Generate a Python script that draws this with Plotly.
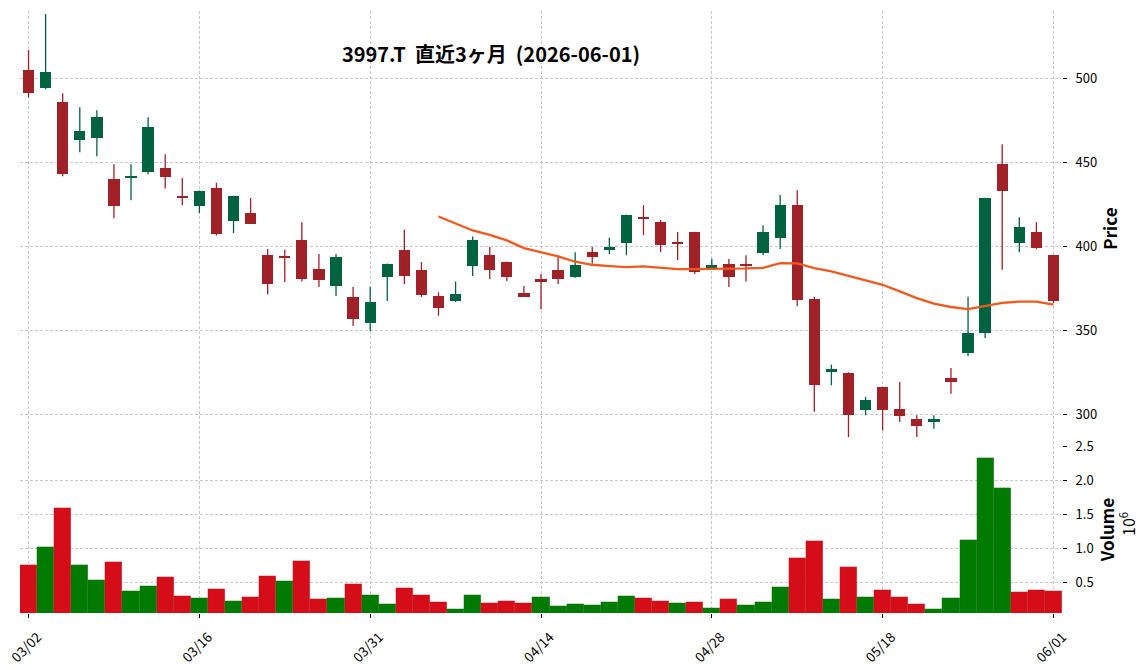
import plotly.graph_objects as go

# ---- data ----
dates = [
    "03/02", "03/03", "03/04", "03/05", "03/06", "03/09", "03/10", "03/11", "03/12", "03/13",
    "03/16", "03/17", "03/18", "03/19", "03/23", "03/24", "03/25", "03/26", "03/27", "03/30",
    "03/31", "04/01", "04/02", "04/03", "04/06", "04/07", "04/08", "04/09", "04/10", "04/13",
    "04/14", "04/15", "04/16", "04/17", "04/20", "04/21", "04/22", "04/23", "04/24", "04/27",
    "04/28", "04/30", "05/01", "05/07", "05/08", "05/11", "05/12", "05/13", "05/14", "05/15",
    "05/18", "05/19", "05/20", "05/21", "05/22", "05/25", "05/26", "05/27", "05/28", "05/29",
    "06/01",
]
opens = [
    504.9, 494.3, 486.0, 463.6, 464.8, 440.3, 440.5, 444.4, 446.8, 430.2,
    424.4, 434.9, 415.5, 420.1, 395.2, 394.2, 404.1, 386.8, 376.4, 370.2,
    354.4, 381.7, 398.1, 386.3, 370.8, 367.5, 388.4, 395.2, 391.0, 372.3,
    380.7, 386.3, 381.7, 396.9, 397.7, 401.9, 417.5, 414.7, 402.7, 408.8,
    387.0, 389.8, 389.8, 396.3, 405.4, 424.8, 369.0, 325.3, 325.1, 302.6,
    316.7, 303.2, 297.8, 295.7, 322.2, 336.6, 348.5, 449.2, 401.9, 408.8,
    395.2,
]
highs = [
    516.8, 538.2, 491.1, 482.8, 481.0, 449.0, 449.0, 476.9, 454.9, 440.7,
    433.3, 437.9, 430.2, 428.8, 398.5, 398.1, 414.5, 395.6, 395.6, 376.0,
    376.0, 390.0, 410.0, 390.8, 372.8, 379.3, 406.0, 399.7, 391.2, 376.6,
    383.7, 393.8, 396.7, 399.7, 405.2, 419.0, 424.6, 415.9, 408.6, 408.8,
    392.8, 392.6, 394.9, 412.7, 430.6, 433.5, 370.0, 329.9, 325.3, 310.7,
    316.7, 319.6, 299.8, 299.8, 327.9, 370.2, 429.0, 460.8, 417.5, 414.5,
    395.2,
]
lows = [
    488.7, 493.5, 441.8, 456.1, 453.7, 416.9, 427.6, 443.0, 434.5, 424.6,
    419.9, 406.6, 408.0, 413.7, 371.6, 378.9, 379.3, 376.0, 370.6, 352.8,
    349.9, 367.7, 377.7, 370.0, 358.9, 367.1, 382.5, 380.7, 379.5, 370.0,
    362.7, 377.7, 381.5, 390.0, 395.4, 394.8, 406.8, 396.7, 392.0, 383.7,
    387.0, 376.0, 379.3, 394.9, 398.5, 364.5, 301.8, 317.6, 286.8, 299.8,
    290.7, 295.8, 286.9, 291.7, 312.5, 335.0, 345.7, 386.3, 396.7, 398.5,
    366.5,
]
closes = [
    491.5, 503.8, 443.4, 468.7, 477.1, 424.4, 442.0, 471.1, 441.6, 428.6,
    433.1, 407.6, 430.2, 413.7, 377.5, 393.4, 380.5, 380.0, 394.0, 357.2,
    367.3, 389.6, 382.3, 371.4, 363.3, 372.0, 403.7, 385.9, 381.7, 370.2,
    378.7, 380.5, 389.2, 393.6, 399.9, 418.9, 416.7, 400.7, 401.9, 384.7,
    389.2, 381.7, 388.8, 408.8, 424.8, 368.4, 317.6, 327.3, 300.2, 309.1,
    302.6, 299.6, 293.3, 297.6, 319.4, 348.9, 429.0, 433.3, 411.8, 399.3,
    367.5,
]
volumes = [
    757000, 1019000, 1587000, 757000, 539000, 801000, 379000, 451000, 583000, 306000,
    277000, 408000, 233000, 291000, 597000, 524000, 816000, 262000, 277000, 481000,
    320000, 189000, 422000, 320000, 218000, 117000, 320000, 204000, 233000, 204000,
    291000, 160000, 189000, 175000, 218000, 306000, 277000, 233000, 204000, 218000,
    131000, 262000, 175000, 218000, 437000, 859000, 1107000, 262000, 728000, 291000,
    393000, 291000, 189000, 117000, 277000, 1121000, 2330000, 1893000, 364000, 393000,
    379000,
]
ma25 = [None] * 24 + [
    417.9, 413.6, 409.6, 407.0, 403.7, 399.1, 396.7, 394.2, 391.0, 389.2,
    388.4, 387.8, 388.2, 387.2, 386.6, 386.6, 386.6, 386.6, 387.0, 387.4,
    390.2, 390.0, 387.2, 385.3, 382.5, 379.9, 377.3, 373.4, 369.4, 366.1,
    364.1, 362.9, 364.9, 366.5, 367.3, 367.3, 365.5,
]
tick_dates = ["03/02", "03/16", "03/31", "04/14", "04/28", "05/18", "06/01"]
price_ticks = [300, 350, 400, 450, 500]
vol_ticks = [500000, 1000000, 1500000, 2000000, 2500000]
vol_tick_text = ["0.5", "1.0", "1.5", "2.0", "2.5"]
title_text = "3997.T  直近3ヶ月  (2026-06-01)"

# ---- styles ----
UP, DOWN = "#006340", "#a02128"
VUP, VDOWN = "#007a00", "#d50d18"
MA_COLOR = "#f05a1e"
GRID = "#c8c8c8"
FONT = "Noto Sans CJK JP"

candle_colors = [UP if c >= o else DOWN for o, c in zip(opens, closes)]
vol_colors = [VDOWN] + [VUP if closes[i] >= closes[i - 1] else VDOWN for i in range(1, len(closes))]

fig = go.Figure()

# wicks
for col in (UP, DOWN):
    wx, wy = [], []
    for d, h, l, cc in zip(dates, highs, lows, candle_colors):
        if cc == col:
            wx += [d, d, None]
            wy += [l, h, None]
    fig.add_trace(go.Scatter(x=wx, y=wy, mode="lines", line=dict(color=col, width=1.3),
                             xaxis="x2", yaxis="y2", hoverinfo="skip"))

# bodies
fig.add_trace(go.Bar(
    x=dates,
    base=[min(o, c) for o, c in zip(opens, closes)],
    y=[max(abs(c - o), 0.8) for o, c in zip(opens, closes)],
    width=0.66,
    marker=dict(color=candle_colors, line=dict(width=0)),
    xaxis="x2", yaxis="y2",
))

# moving average
fig.add_trace(go.Scatter(x=dates, y=ma25, mode="lines", line=dict(color=MA_COLOR, width=2.3),
                         xaxis="x2", yaxis="y2", connectgaps=False))

# volume
fig.add_trace(go.Bar(
    x=dates, y=volumes, width=1.0,
    marker=dict(color=vol_colors, line=dict(width=0.4, color="rgba(0,0,0,0.15)")),
    xaxis="x", yaxis="y",
))

TOP, BOT, SPLIT_PX = 11, 613, 446
plot_h = BOT - TOP
split = (BOT - SPLIT_PX) / plot_h

grid_common = dict(showgrid=True, gridcolor=GRID, griddash="3px,2px", gridwidth=0.8,
                   zeroline=False, showline=False, automargin=False)

fig.update_layout(
    width=1148, height=670,
    margin=dict(l=20, r=86, t=TOP, b=670 - BOT, autoexpand=False),
    paper_bgcolor="white", plot_bgcolor="white",
    showlegend=False,
    bargap=0,
    font=dict(family=FONT, size=12, color="black"),
    title=dict(text="<b>" + title_text + "</b>", x=(491 - 20) / 1042, xref="paper", xanchor="center",
               y=1 - 55 / 670, yanchor="middle", automargin=False,
               font=dict(family=FONT, size=20, color="black")),
    xaxis=dict(domain=[0, 1], anchor="y", type="category", categoryorder="array", categoryarray=dates,
               range=[-0.5, len(dates) - 0.5], tickmode="array", tickvals=tick_dates, ticktext=tick_dates,
               tickangle=-45, ticks="outside", ticklen=4, tickcolor="black", tickwidth=1,
               ticklabelshift=9, ticklabelstandoff=6, tickfont=dict(size=13.5), **grid_common),
    xaxis2=dict(domain=[0, 1], anchor="y2", type="category", matches="x", categoryorder="array",
                categoryarray=dates, tickmode="array", tickvals=tick_dates, showticklabels=False,
                ticks="", **grid_common),
    yaxis=dict(domain=[0, split], anchor="x", side="right", range=[60000, 2500000],
               tickmode="array", tickvals=vol_ticks, ticktext=vol_tick_text,
               ticks="outside", ticklen=4, tickcolor="black", tickfont=dict(size=13),
               ticklabelstandoff=6,
               title=dict(text="<b>Volume</b>", font=dict(size=17), standoff=3), **grid_common),
    yaxis2=dict(domain=[split, 1], anchor="x2", side="right", range=[281.5, 540],
                tickmode="array", tickvals=price_ticks,
                ticks="outside", ticklen=4, tickcolor="black", tickfont=dict(size=13),
                ticklabelstandoff=6,
                title=dict(text="<b>Price</b>", font=dict(size=17), standoff=8), **grid_common),
    annotations=[dict(text="10<sup>6</sup>", xref="paper", yref="paper",
                      x=(1127 - 20) / 1042, y=(BOT - 524) / plot_h, textangle=-90,
                      showarrow=False, font=dict(family=FONT, size=16, color="black"),
                      xanchor="center", yanchor="middle")],
)

fig.write_html("out.html")
